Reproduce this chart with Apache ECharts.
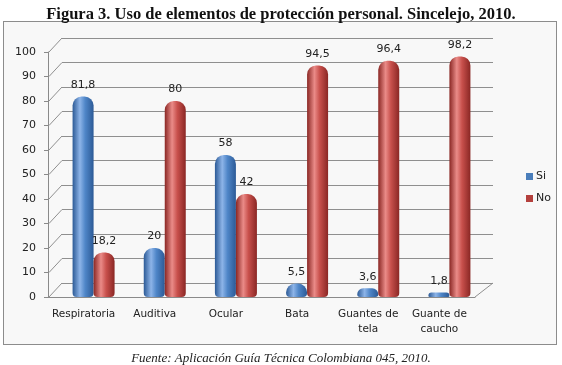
<!DOCTYPE html>
<html>
<head>
<meta charset="utf-8">
<script src="https://cdn.jsdelivr.net/npm/echarts@6/dist/echarts.min.js"></script>
<style>
  html, body { margin: 0; padding: 0; background: #fff; }
  #box { position: absolute; left: 3px; top: 21px; width: 554px; height: 324px; border: 1px solid #8c8c8c; background: #f8f8f8; box-sizing: border-box; }
  #chart { position: absolute; left: 0; top: 0; width: 562px; height: 365px; }
</style>
</head>
<body>
<div id="box"></div>
<div id="chart"></div>
<script>
  // datos de la figura
  var categorias = ['Respiratoria', 'Auditiva', 'Ocular', 'Bata', 'Guantes de\ntela', 'Guante de\ncaucho'];
  var valoresSi = [81.8, 20, 58, 5.5, 3.6, 1.8];
  var valoresNo = [18.2, 80, 42, 94.5, 96.4, 98.2];
  var marcasY = [0, 10, 20, 30, 40, 50, 60, 70, 80, 90, 100];

  var fuente = 'DejaVu Sans';

  // cilindro: degradado horizontal
  function cilindro(claro, medio, oscuro) {
    return new echarts.graphic.LinearGradient(0, 0, 1, 0, [
      { offset: 0, color: oscuro },
      { offset: 0.35, color: claro },
      { offset: 0.6, color: medio },
      { offset: 1, color: oscuro }
    ]);
  }

  function coma(p) {
    return String(p.value).replace('.', ',');
  }

  var myChart = echarts.init(document.getElementById('chart'));

  var option = {
    backgroundColor: 'transparent',
    animation: false,
    title: [
      {
        text: 'Figura 3. Uso de elementos de protección personal. Sincelejo, 2010.',
        left: 'center', top: 1,
        textStyle: { fontFamily: 'Liberation Serif', fontSize: 16.5, fontWeight: 'bold', color: '#111' }
      },
      {
        text: 'Fuente: Aplicación Guía Técnica Colombiana 045, 2010.',
        left: 'center', top: 347,
        textStyle: { fontFamily: 'Liberation Serif', fontSize: 13, fontStyle: 'italic', fontWeight: 'normal', color: '#222' }
      }
    ],
    legend: {
      orient: 'vertical',
      left: 521, top: 166,
      itemWidth: 7, itemHeight: 7, itemGap: 11,
      icon: 'rect',
      textStyle: { fontFamily: fuente, fontSize: 11, color: '#222', padding: [0, 0, 0, -2] },
      data: [
        { name: 'Si', itemStyle: { color: '#4a7ebb' } },
        { name: 'No', itemStyle: { color: '#b4403d' } }
      ]
    },
    grid: [
      // frente: ejes y etiquetas
      { left: 48, right: 87, top: 52, bottom: 68 },
      // barras (desplazadas por la profundidad)
      { left: 58, right: 77, top: 52, bottom: 68 },
      // pared del fondo
      { left: 62, right: 69, top: 38, bottom: 82 }
    ],
    xAxis: [
      {
        gridIndex: 0, type: 'category', data: categorias,
        axisLine: { lineStyle: { color: '#8a8a8a' } },
        axisTick: { length: 4, lineStyle: { color: '#8a8a8a' } },
        axisLabel: { interval: 0, fontFamily: fuente, fontSize: 10.5, color: '#222', margin: 10, lineHeight: 15 }
      },
      { gridIndex: 1, type: 'category', data: categorias, show: false },
      { gridIndex: 2, type: 'category', data: categorias, show: false }
    ],
    yAxis: [
      {
        gridIndex: 0, type: 'value', min: 0, max: 100, interval: 10,
        axisLine: { show: true, lineStyle: { color: '#8a8a8a' } },
        axisTick: { show: true, length: 4, lineStyle: { color: '#8a8a8a' } },
        axisLabel: { fontFamily: fuente, fontSize: 11, color: '#222', margin: 12 },
        splitLine: { show: false }
      },
      { gridIndex: 1, type: 'value', min: 0, max: 100, interval: 10, show: false, splitLine: { show: false } },
      {
        gridIndex: 2, type: 'value', min: 0, max: 100, interval: 10,
        axisLine: { show: false }, axisTick: { show: false }, axisLabel: { show: false },
        splitLine: { show: true, lineStyle: { color: '#8f8f8f', width: 1 } }
      }
    ],
    series: [
      {
        name: 'Si', type: 'bar', xAxisIndex: 1, yAxisIndex: 1,
        data: valoresSi, barWidth: 21, barGap: '0%', z: 3,
        itemStyle: { color: cilindro('#8db4e8', '#4f86c8', '#2c5a96'), borderRadius: [9, 9, 4, 4] },
        label: { show: true, position: 'top', distance: 6, formatter: coma, fontFamily: fuente, fontSize: 11, color: '#222' }
      },
      {
        name: 'No', type: 'bar', xAxisIndex: 1, yAxisIndex: 1,
        data: valoresNo, barWidth: 21, z: 3,
        itemStyle: { color: cilindro('#ea8b88', '#c8504c', '#8a2724'), borderRadius: [9, 9, 4, 4] },
        label: { show: true, position: 'top', distance: 6, formatter: coma, fontFamily: fuente, fontSize: 11, color: '#222' }
      },
      {
        // líneas diagonales de la pared izquierda y del piso
        type: 'custom', xAxisIndex: 0, yAxisIndex: 0, z: 1, silent: true,
        data: marcasY.map(function (v) { return [0, v]; }),
        encode: { x: 0, y: 1 },
        renderItem: function (params, api) {
          var p = api.coord([0, api.value(1)]);
          var ancho = api.size([1, 0])[0];
          var izq = p[0] - ancho / 2;
          var estilo = { stroke: '#8f8f8f', lineWidth: 1 };
          var hijos = [
            { type: 'line', shape: { x1: izq + 1, y1: p[1], x2: izq + 14, y2: p[1] - 14 }, style: estilo }
          ];
          if (api.value(1) === 0) {
            var der = izq + ancho * categorias.length;
            hijos.push({ type: 'line', shape: { x1: der, y1: p[1], x2: der + 18, y2: p[1] - 14 }, style: estilo });
          }
          return { type: 'group', children: hijos };
        }
      }
    ]
  };

  myChart.setOption(option);
</script>
</body>
</html>
